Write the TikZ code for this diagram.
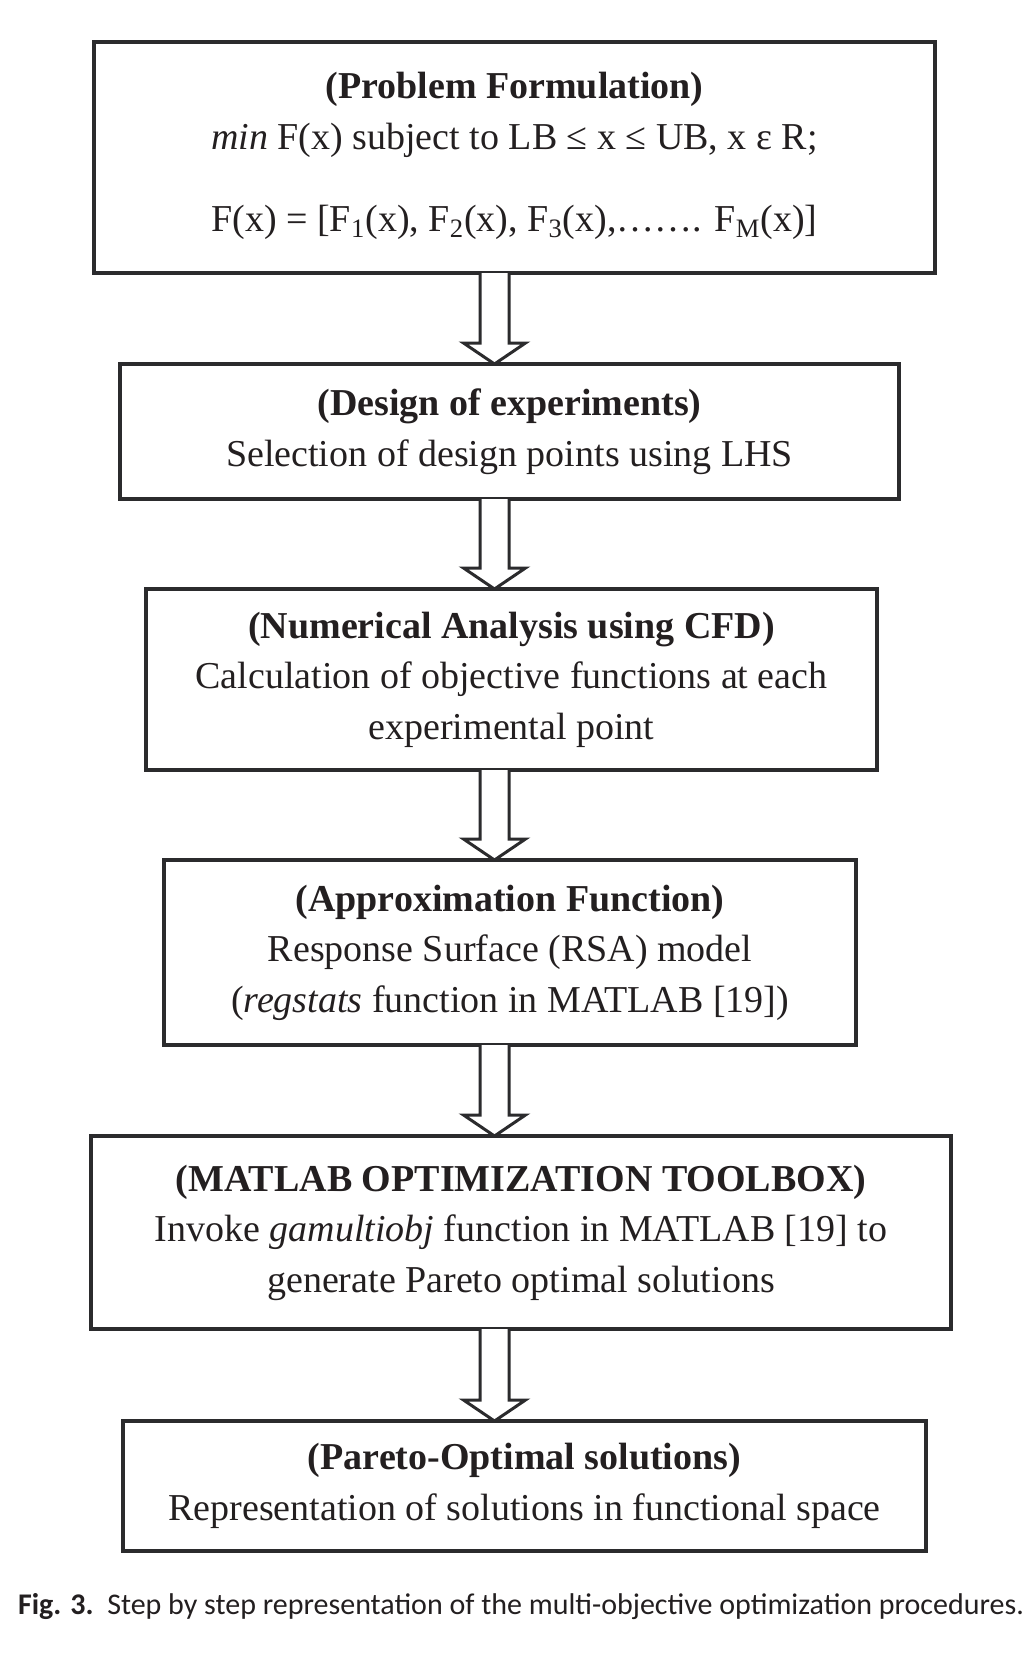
\documentclass[tikz,border=0pt]{standalone}
\usepackage{fontspec}
\setmainfont{Liberation Serif}
\newfontfamily\captionfont{Carlito}
\usepackage{xcolor}
\definecolor{boxgray}{HTML}{2B2B2D}
\definecolor{inkgray}{HTML}{231F20}
\usetikzlibrary{positioning, calc}

\tikzset{
	stepbox/.style={draw=boxgray, line width=2pt, rectangle, align=center, text=inkgray, inner sep=0pt, outer sep=0pt, font=\fontsize{19}{25.3}\selectfont},
	hollowarrow/.style={draw=boxgray, line width=1.5pt, fill=white, line join=miter},
}

% hollow block arrow from one box down to the next
\newcommand{\hollowdown}[2]{%
	\draw[hollowarrow] let \p1=(#1.south -| axis), \p2=(#2.north -| axis) in
	(\x1-7.25pt,\y1) -- (\x1-7.25pt,\y2+10.5pt) -- (\x1-15.5pt,\y2+10.5pt) -- (\x2,\y2)
	-- (\x1+15.5pt,\y2+10.5pt) -- (\x1+7.25pt,\y2+10.5pt) -- (\x1+7.25pt,\y1);}

\begin{document}
\begin{tikzpicture}[x=0.5pt, y=-0.5pt]
	\useasboundingbox (0,0) rectangle (1035,1654);
	\coordinate (axis) at (494.5,0);
	
	\node[stepbox, minimum width=420.5pt, minimum height=115.5pt] (formulation) at (514.5,157.5) {\textbf{(Problem Formulation)}\\\textit{min} F(x) subject to LB ≤ x ≤ UB, x ε R;\\[16pt]F(x) = [F\textsubscript{1}(x), F\textsubscript{2}(x), F\textsubscript{3}(x),\dots\dots. F\textsubscript{M}(x)]\\[-20pt]\mbox{}};
	
	\node[stepbox, below=45.5pt of formulation, xshift=-2.5pt, minimum width=389.5pt, minimum height=67.5pt] (doe) {\textbf{(Design of experiments)}\\Selection of design points using LHS};
	
	\node[stepbox, below=45pt of doe, xshift=1pt, minimum width=365.5pt, minimum height=90.5pt] (cfd) {\textbf{(Numerical Analysis using CFD)}\\Calculation of objective functions at each\\experimental point};
	
	\node[stepbox, below=45pt of cfd, xshift=-0.75pt, minimum width=346pt, minimum height=92.5pt] (approx) {\textbf{(Approximation Function)}\\Response Surface (RSA) model\\(\textit{regstats} function in MATLAB [19])};
	
	\node[stepbox, below=45.5pt of approx, xshift=5.5pt, minimum width=430pt, minimum height=96.5pt] (toolbox) {\textbf{(MATLAB OPTIMIZATION TOOLBOX)}\\Invoke \textit{gamultiobj} function in MATLAB [19] to\\generate Pareto optimal solutions};
	
	\node[stepbox, below=46pt of toolbox, xshift=1.75pt, minimum width=401.5pt, minimum height=65pt] (pareto) {\textbf{(Pareto-Optimal solutions)}\\Representation of solutions in functional space};
	
	\node[text=inkgray, font=\captionfont\fontsize{15}{18}\selectfont] (caption) at (521,1607) {\textbf{Fig. 3.}\ \ Step by step representation of the multi-objective optimization procedures.};
	
	\hollowdown{formulation}{doe}
	\hollowdown{doe}{cfd}
	\hollowdown{cfd}{approx}
	\hollowdown{approx}{toolbox}
	\hollowdown{toolbox}{pareto}
\end{tikzpicture}
\end{document}
